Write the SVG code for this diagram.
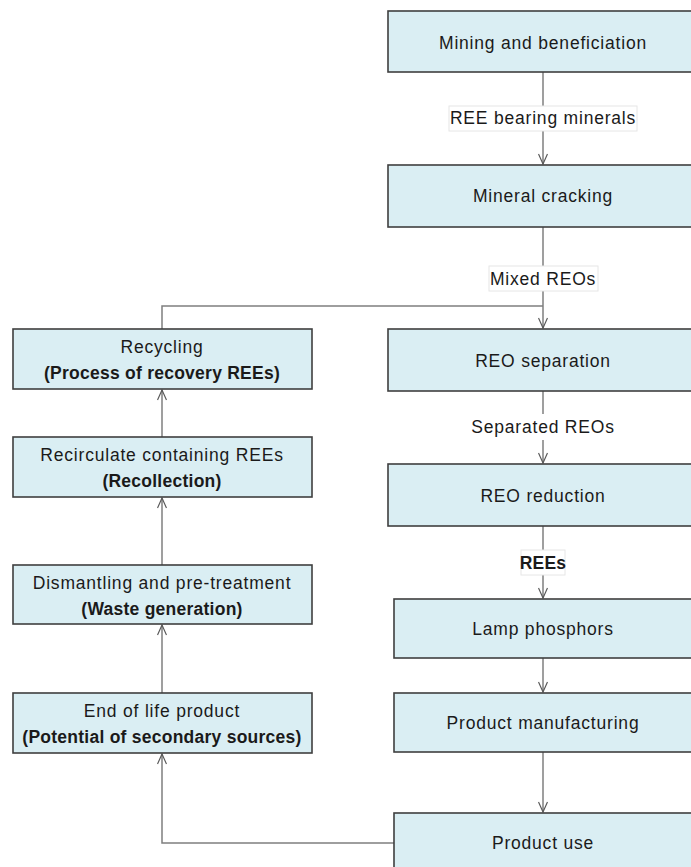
<svg xmlns="http://www.w3.org/2000/svg" width="691" height="867" viewBox="0 0 691 867">
<style>
.box{fill:#DAEEF3;stroke:#3f3f3f;stroke-width:1.6}
.t{font-family:"Liberation Sans",Arial,sans-serif;font-size:17.5px;letter-spacing:0.8px;fill:#1a1a1a;text-anchor:middle}
.b{font-weight:bold;letter-spacing:0.25px}
.c{fill:none;stroke:#7f7f7f;stroke-width:1.5}
.lb{fill:#ffffff;stroke:#e6e6e6;stroke-width:1}
</style>
<defs>
<marker id="ah" viewBox="0 0 12 10" refX="11" refY="5" markerWidth="12" markerHeight="10" markerUnits="userSpaceOnUse" orient="auto">
<path d="M1,0.5 L11,5 L1,9.5" fill="none" stroke="#595959" stroke-width="1.2"/>
</marker>
</defs>
<rect width="691" height="867" fill="#ffffff"/>
<g id="connectors">
<path class="c" d="M543,72 V164" marker-end="url(#ah)"/>
<path class="c" d="M543,227 V328" marker-end="url(#ah)"/>
<path class="c" d="M162,329 V306 H543"/>
<path class="c" d="M543,391 V463" marker-end="url(#ah)"/>
<path class="c" d="M543,526 V598" marker-end="url(#ah)"/>
<path class="c" d="M543,658 V692" marker-end="url(#ah)"/>
<path class="c" d="M543,752 V812" marker-end="url(#ah)"/>
<path class="c" d="M394,843 H162 V754" marker-end="url(#ah)"/>
<path class="c" d="M162,693 V625" marker-end="url(#ah)"/>
<path class="c" d="M162,565 V498" marker-end="url(#ah)"/>
<path class="c" d="M162,437 V390" marker-end="url(#ah)"/>
<rect class="lb" x="449" y="106" width="188" height="25"/>
<text class="t" x="543" y="124">REE bearing minerals</text>
<rect class="lb" x="489" y="266" width="109" height="25"/>
<text class="t" x="543" y="285">Mixed REOs</text>
<rect x="471" y="414" width="144" height="26" fill="#ffffff"/>
<text class="t" x="543" y="433">Separated REOs</text>
<rect class="lb" x="521" y="550" width="44" height="25"/>
<text class="t b" x="543" y="569">REEs</text>
</g>
<g id="mining"><rect class="box" x="388" y="11" width="312" height="61"/><text class="t" x="543" y="49">Mining and beneficiation</text></g>
<g id="cracking"><rect class="box" x="388" y="165" width="312" height="62"/><text class="t" x="543" y="202">Mineral cracking</text></g>
<g id="separation"><rect class="box" x="388" y="329" width="312" height="62"/><text class="t" x="543" y="367">REO separation</text></g>
<g id="reduction"><rect class="box" x="388" y="464" width="312" height="62"/><text class="t" x="543" y="502">REO reduction</text></g>
<g id="phosphors"><rect class="box" x="394" y="599" width="306" height="59"/><text class="t" x="543" y="635">Lamp phosphors</text></g>
<g id="manufacturing"><rect class="box" x="394" y="693" width="306" height="59"/><text class="t" x="543" y="729">Product manufacturing</text></g>
<g id="use"><rect class="box" x="394" y="813" width="306" height="70"/><text class="t" x="543" y="849">Product use</text></g>
<g id="recycling"><rect class="box" x="13" y="329" width="299" height="60"/><text class="t" x="162" y="353">Recycling</text><text class="t b" x="162" y="379">(Process of recovery REEs)</text></g>
<g id="recirculate"><rect class="box" x="13" y="437" width="299" height="60"/><text class="t" x="162" y="461">Recirculate containing REEs</text><text class="t b" x="162" y="487">(Recollection)</text></g>
<g id="dismantling"><rect class="box" x="13" y="565" width="299" height="59"/><text class="t" x="162" y="589">Dismantling and pre-treatment</text><text class="t b" x="162" y="615">(Waste generation)</text></g>
<g id="endoflife"><rect class="box" x="13" y="693" width="299" height="60"/><text class="t" x="162" y="717">End of life product</text><text class="t b" x="162" y="743">(Potential of secondary sources)</text></g>
</svg>
